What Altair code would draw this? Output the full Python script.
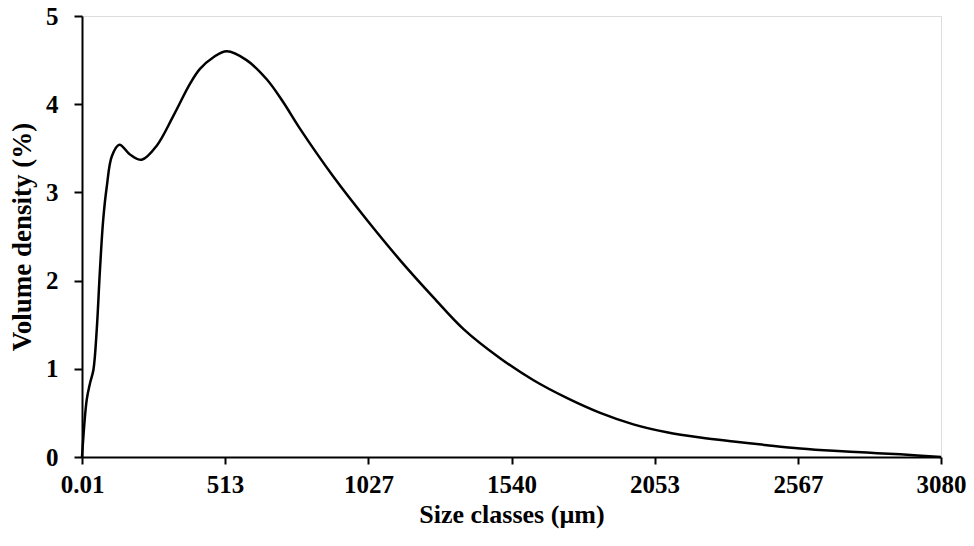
import altair as alt
import pandas as pd

size_um = [0.01, 17, 29, 41, 53, 64, 76, 89, 107, 134, 172, 214, 268, 328, 387, 423,
           470, 519, 590, 663, 720, 782, 901, 1021, 1141, 1260, 1368, 1499, 1619, 1738,
           1858, 1977, 2097, 2217, 2336, 2456, 2575, 2695, 2814, 2934, 3080]
volume_pct = [0, 0.65, 0.84, 0.99, 1.45, 2.1, 2.69, 3.07, 3.41, 3.54, 3.43, 3.37, 3.53,
              3.87, 4.23, 4.40, 4.53, 4.60, 4.50, 4.28, 4.03, 3.72, 3.18, 2.69, 2.23,
              1.81, 1.45, 1.12, 0.87, 0.67, 0.50, 0.37, 0.28, 0.22, 0.175, 0.134,
              0.097, 0.07, 0.05, 0.03, 0.0]
x_ticks = [0.01, 513, 1027, 1540, 2053, 2567, 3080]
y_ticks = [0, 1, 2, 3, 4, 5]

df = pd.DataFrame({"size": size_um, "vol": volume_pct})

FONT = "Liberation Serif"

chart = alt.Chart(df).mark_line(
    color="black", strokeWidth=2.5, interpolate="catmull-rom"
).encode(
    x=alt.X("size:Q",
            scale=alt.Scale(domain=[0, 3080], nice=False, zero=False),
            axis=alt.Axis(values=x_ticks,
                          labelExpr="datum.value < 1 ? '0.01' : format(datum.value, 'd')",
                          title="Size classes (µm)", grid=False,
                          domainColor="black", domainWidth=2,
                          tickColor="black", tickWidth=2, tickSize=7,
                          labelFont=FONT, labelFontSize=25, labelFontWeight="bold",
                          labelColor="black", labelPadding=8, labelFlush=False,
                          titleFont=FONT, titleFontSize=26, titleFontWeight="bold",
                          titleColor="black", titlePadding=4)),
    y=alt.Y("vol:Q",
            scale=alt.Scale(domain=[0, 5], nice=False),
            axis=alt.Axis(values=y_ticks, format="d",
                          title="Volume density (%)", grid=False,
                          domainColor="black", domainWidth=2,
                          tickColor="black", tickWidth=2, tickSize=8,
                          labelFont=FONT, labelFontSize=25, labelFontWeight="bold",
                          labelColor="black", labelPadding=16,
                          titleFont=FONT, titleFontSize=27, titleFontWeight="bold",
                          titleColor="black", titlePadding=9)),
).properties(
    width=859,
    height=441,
    autosize=alt.AutoSizeParams(type="none"),
    padding={"left": 82, "top": 16, "right": 33, "bottom": 89},
).configure_view(stroke=None).configure(background="white")

chart.save("out.html", embed_options={"renderer": "svg", "actions": False})
